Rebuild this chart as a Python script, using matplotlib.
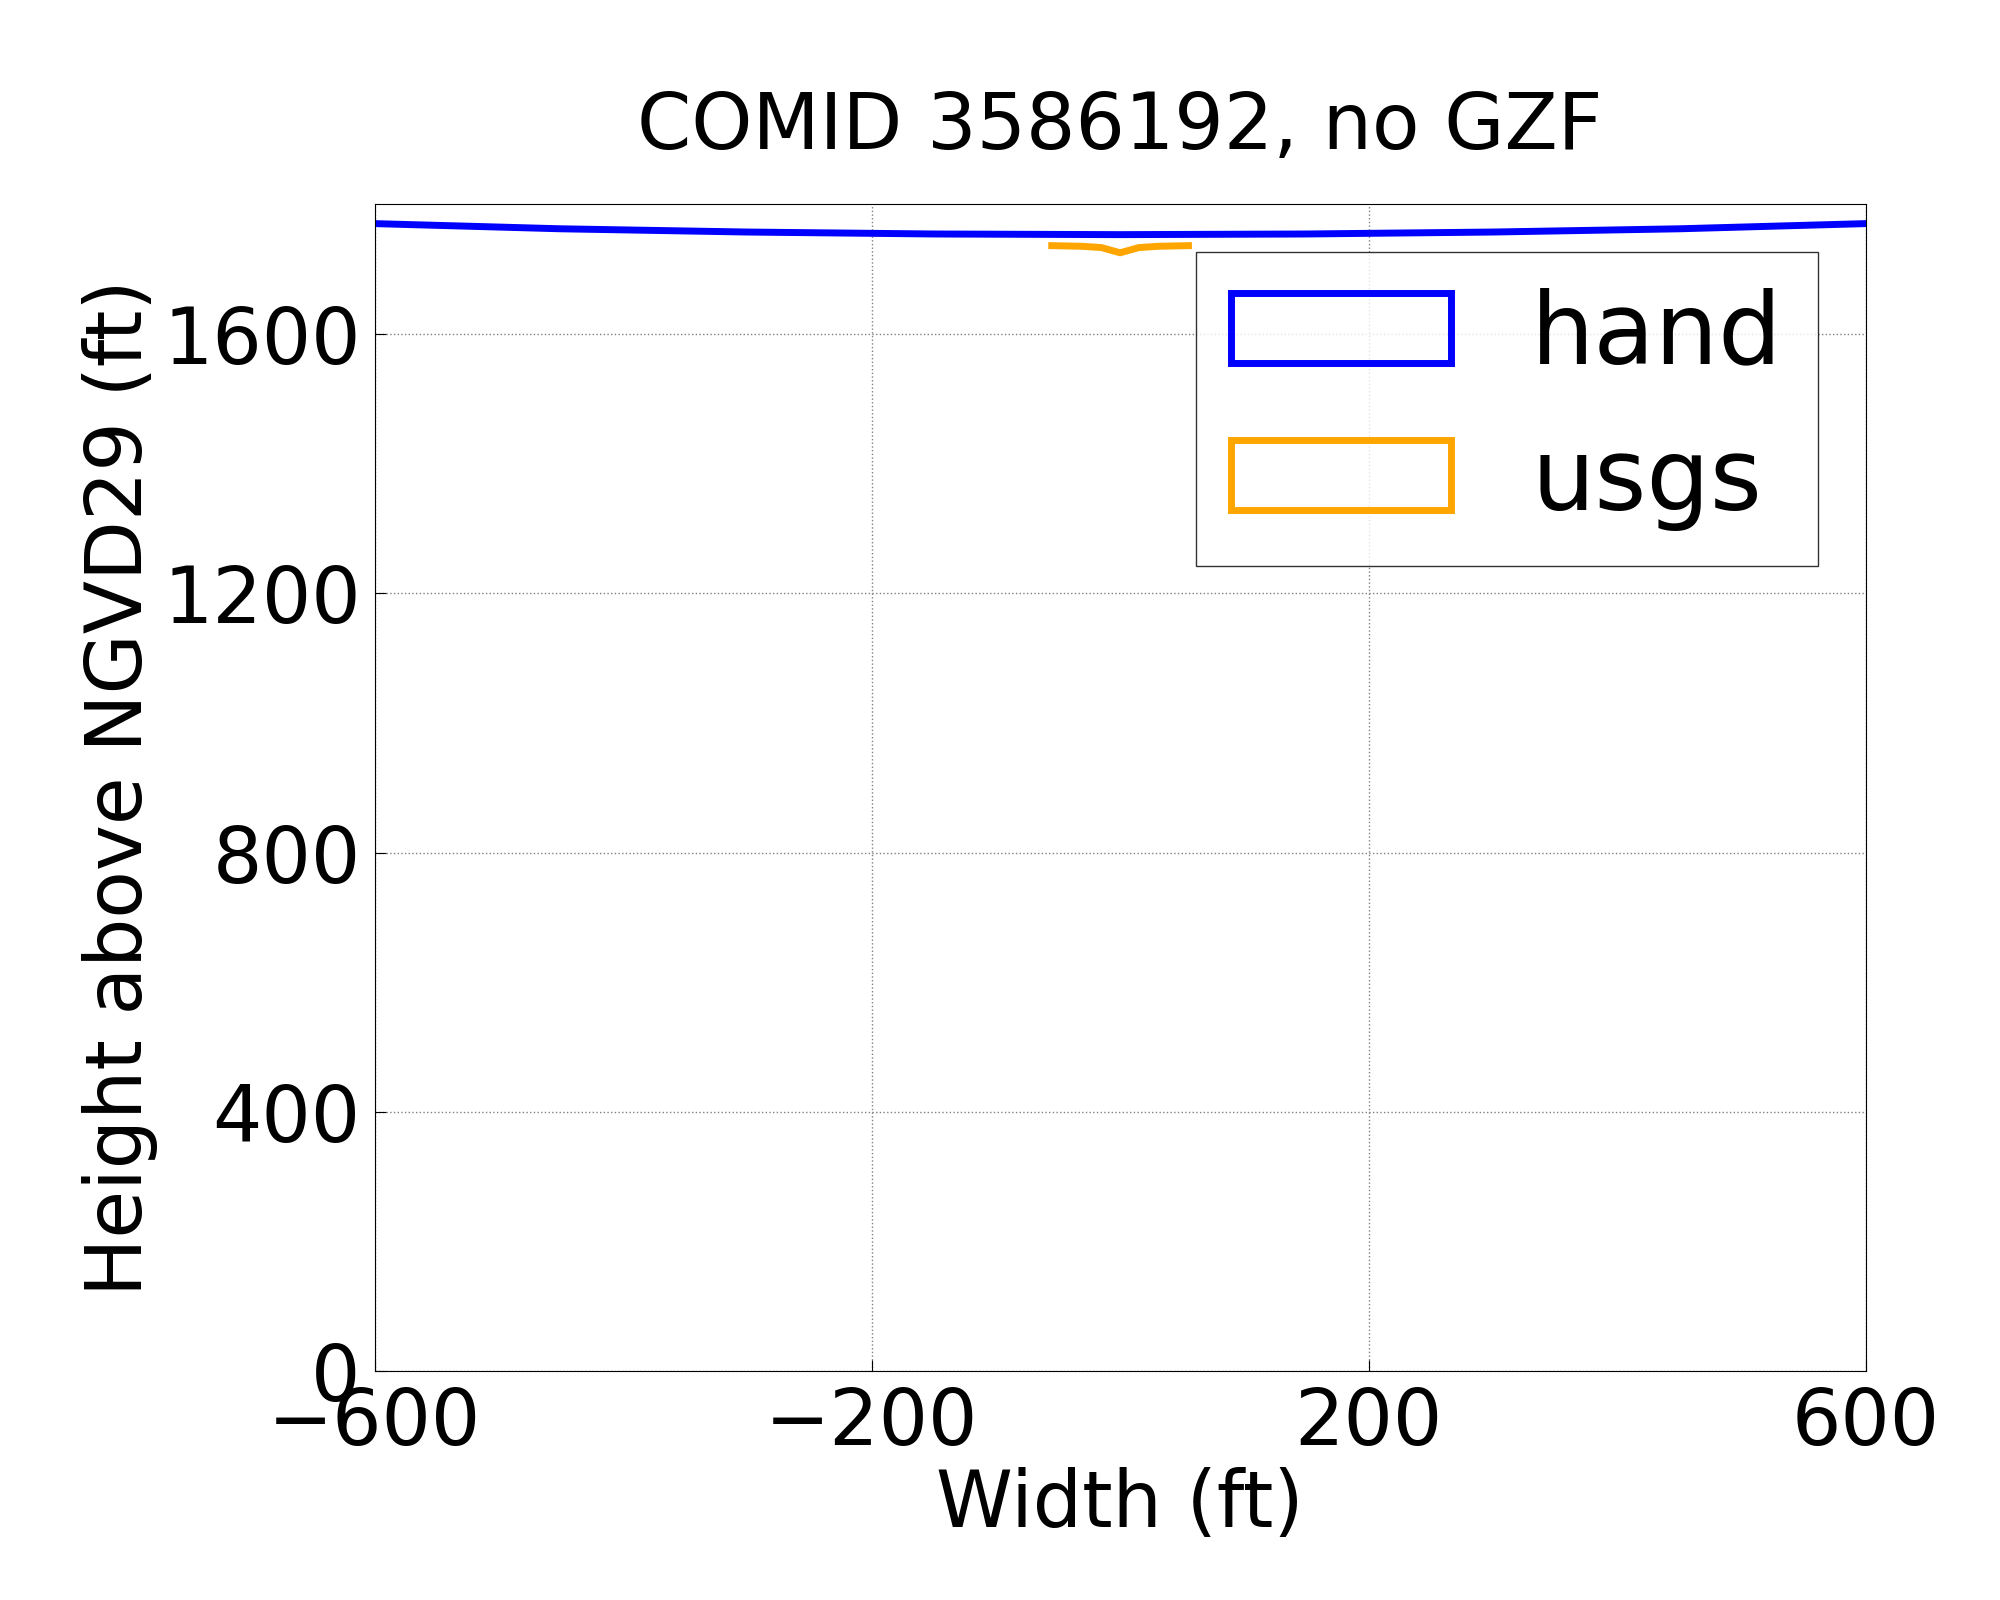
import matplotlib
matplotlib.use("Agg")
import matplotlib.pyplot as plt
from matplotlib.patches import Patch

hand_x = [-600, -450, -300, -150, 0, 150, 300, 450, 600]
hand_y = [1770, 1762, 1757, 1754, 1753, 1754, 1757, 1762, 1770]
usgs_x = [-55, -30, -15, 0, 15, 30, 55]
usgs_y = [1736, 1735, 1733, 1725, 1733, 1735, 1736]

fig = plt.figure(figsize=(20, 16), dpi=100)
ax = fig.add_axes([0.1873, 0.143, 0.7455, 0.7294])
ax.plot(hand_x, hand_y, color='blue', lw=5)
ax.plot(usgs_x, usgs_y, color='orange', lw=5)
ax.set_xlim(-600, 600)
ax.set_ylim(0, 1800)
ax.set_xticks([-600, -200, 200, 600])
ax.set_xticklabels(['\u2212600', '\u2212200', '200', '600'])
ax.set_yticks([0, 400, 800, 1200, 1600])
ax.tick_params(labelsize=56, direction='in', length=8, pad=10)
ax.grid(True, linestyle=':', color='gray', lw=1)
ax.set_xlabel('Width (ft)', fontsize=56)
ax.set_ylabel('Height above NGVD29 (ft)', fontsize=56)
ax.set_title('COMID 3586192, no GZF', fontsize=56, pad=40)
handles = [Patch(facecolor='none', edgecolor='blue', lw=5, label='hand'),
           Patch(facecolor='none', edgecolor='orange', lw=5, label='usgs')]
leg = ax.legend(handles=handles, loc='upper right', fontsize=72, handlelength=2.2,
                handleheight=0.7, fancybox=False, borderaxespad=0,
                bbox_to_anchor=(0.968, 0.959), borderpad=0.35, handletextpad=0.8,
                labelspacing=0.5)
leg.get_frame().set_edgecolor('black')
fig.savefig('out.png')
